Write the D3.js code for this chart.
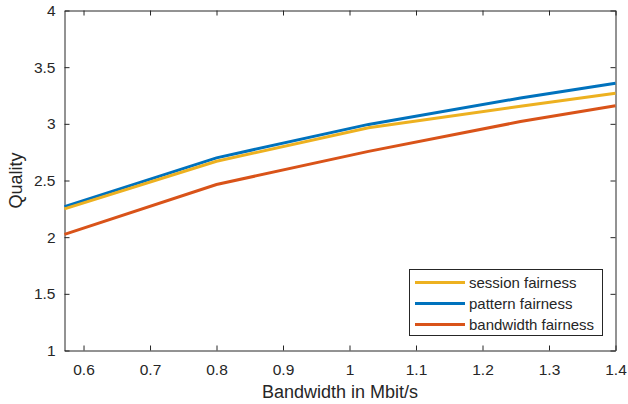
<html lang="en-US">
<head>
<script src="https://d3js.org/d3.v7.min.js"></script>
<style>
  body { margin: 0; background: #fff; }
  text { font-family: "Liberation Sans", Arial, Helvetica, sans-serif; fill: #262626; }
</style>
</head>
<body>
<svg id="chart" width="628" height="404"></svg>
<script>
// bandwidth values (Mbit/s) and quality per fairness scheme
var bandwidth = [0.5714, 0.8, 1.0286, 1.2571, 1.4];
var sessionFairness = [2.25, 2.67, 2.965, 3.155, 3.27];
var patternFairness = [2.27, 2.70, 2.995, 3.228, 3.358];
var bandwidthFairness = [2.024, 2.465, 2.757, 3.02, 3.16];
var seriesNames = ["session fairness", "pattern fairness", "bandwidth fairness"];
var xTicks = [0.6, 0.7, 0.8, 0.9, 1, 1.1, 1.2, 1.3, 1.4];
var yTicks = [1, 1.5, 2, 2.5, 3, 3.5, 4];

var colors = ["#EDB120", "#0072BD", "#D95319"];
var plotLeft = 64.5, plotRight = 615.5, plotTop = 10.5, plotBottom = 350.5;

var svg = d3.select("#chart");
var xScale = d3.scaleLinear().domain([0.5714, 1.4]).range([plotLeft, plotRight]);
var yScale = d3.scaleLinear().domain([1, 4]).range([plotBottom, plotTop]);

// axes box with inward ticks
svg.append("g")
  .attr("transform", "translate(0," + plotBottom + ")")
  .call(d3.axisBottom(xScale).tickValues(xTicks).tickSizeInner(-5).tickSizeOuter(0)
        .tickPadding(13).tickFormat(d3.format("")));
svg.append("g")
  .attr("transform", "translate(0," + plotTop + ")")
  .call(d3.axisTop(xScale).tickValues(xTicks).tickSizeInner(-5).tickSizeOuter(0).tickFormat(""));
svg.append("g")
  .attr("transform", "translate(" + plotLeft + ",0)")
  .call(d3.axisLeft(yScale).tickValues(yTicks).tickSizeInner(-5).tickSizeOuter(0)
        .tickPadding(9).tickFormat(d3.format("")));
svg.append("g")
  .attr("transform", "translate(" + plotRight + ",0)")
  .call(d3.axisRight(yScale).tickValues(yTicks).tickSizeInner(-5).tickSizeOuter(0).tickFormat(""));

svg.selectAll(".domain, .tick line").attr("stroke", "#262626");
svg.selectAll(".tick text").attr("font-size", "15.5px").attr("fill", "#262626")
  .style("font-family", "'Liberation Sans', Arial, sans-serif");

// lines
var allSeries = [sessionFairness, patternFairness, bandwidthFairness];
var line = d3.line()
  .x(function(d, i) { return xScale(bandwidth[i]); })
  .y(function(d) { return yScale(d); });
var drawOrder = [2, 1, 0];
drawOrder.forEach(function(k) {
  svg.append("path")
    .datum(allSeries[k])
    .attr("fill", "none")
    .attr("stroke", colors[k])
    .attr("stroke-width", 3)
    .attr("d", line);
});

// axis labels
svg.append("text")
  .attr("text-anchor", "middle")
  .attr("x", (plotLeft + plotRight) / 2)
  .attr("y", 398)
  .attr("font-size", "18px")
  .text("Bandwidth in Mbit/s");
svg.append("text")
  .attr("text-anchor", "middle")
  .attr("transform", "translate(22," + (plotTop + plotBottom) / 2 + ") rotate(-90)")
  .attr("font-size", "18px")
  .text("Quality");

// legend
var legend = svg.append("g");
legend.append("rect")
  .attr("x", 409.5).attr("y", 269.5)
  .attr("width", 193).attr("height", 66)
  .attr("fill", "#fff").attr("stroke", "#262626");
seriesNames.forEach(function(name, i) {
  var yy = 282.5 + i * 21;
  legend.append("line")
    .attr("x1", 415).attr("x2", 465)
    .attr("y1", yy).attr("y2", yy)
    .attr("stroke", colors[i]).attr("stroke-width", 3);
  legend.append("text")
    .attr("x", 469).attr("y", yy)
    .attr("dy", "0.35em")
    .attr("font-size", "15px")
    .text(name);
});
</script>
</body>
</html>
